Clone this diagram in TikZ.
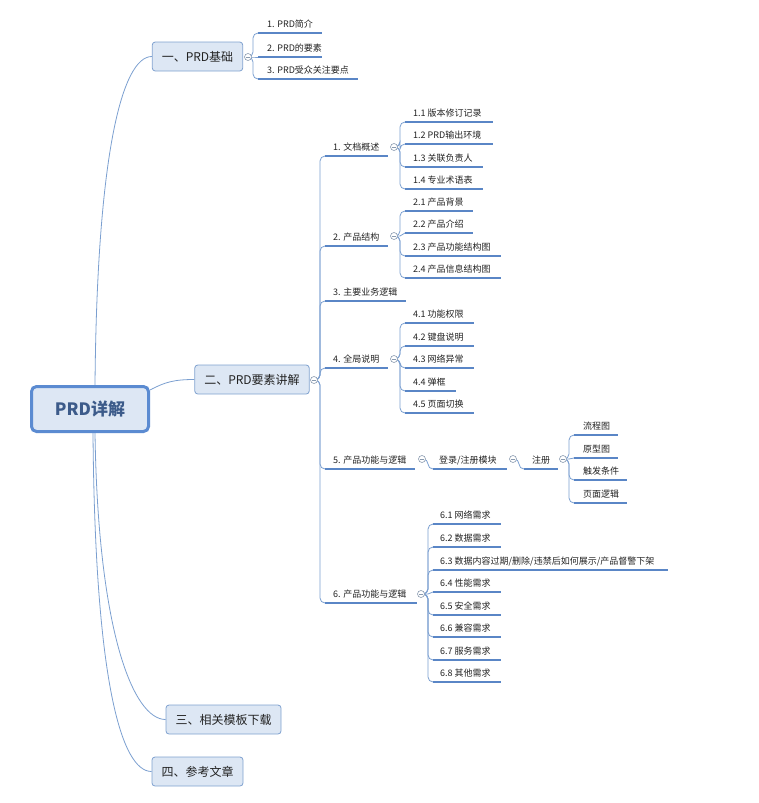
\documentclass[tikz,border=0pt]{standalone}
\usepackage{fontspec}
\setmainfont{Noto Sans CJK SC}
\usetikzlibrary{backgrounds}
\definecolor{boxfill}{HTML}{DDE7F4}
\definecolor{boxline}{HTML}{7FA1CF}
\definecolor{rootline}{HTML}{5B8BD1}
\definecolor{roottext}{HTML}{3C5B8A}
\definecolor{connc}{HTML}{7B9FD0}
\definecolor{barc}{HTML}{5A86C6}
\definecolor{collc}{HTML}{8A9BB0}
\definecolor{txt}{HTML}{222222}
\newcommand\leafnode[6]{%
  \coordinate (#1-l) at (#2,#4);
  \coordinate (#1-r) at (#3,#4);
  \node[leaftext] (#1) at (#2+#5,#4-5.5) {#6};
  \draw[bar] (#1-l) -- (#1-r);}
\newcommand\linkto[3]{\draw[conn,rounded corners=5pt] (#1.center) -- ++(#2,0) |- (#3-l);}
\newcommand\linkst[3]{\draw[conn] (#1.center) -- ++(#2,0) -- (#3-l);}
\begin{document}
\begin{tikzpicture}[x=1pt,y=-1pt,
  leaftext/.style={anchor=base west, inner sep=0pt, font=\fontsize{9}{10}\selectfont, text=txt},
  bar/.style={draw=barc, line width=1.6pt},
  conn/.style={draw=connc, line width=0.8pt},
  coll/.style={circle, draw=collc, fill=white, line width=0.6pt, minimum size=7pt, inner sep=0pt,
    path picture={\draw[collc,line width=0.6pt] ([xshift=-2pt]path picture bounding box.center) -- ([xshift=2pt]path picture bounding box.center);}},
  lone/.style={draw=boxline, fill=boxfill, rounded corners=3pt, line width=0.8pt, minimum height=29pt, inner xsep=9.5pt, inner ysep=0pt, font=\fontsize{12}{14}\selectfont, text=txt},
  rootbox/.style={draw=rootline, fill=boxfill, rounded corners=5pt, line width=3pt, minimum width=117pt, minimum height=45pt, font=\fontsize{17}{20}\selectfont\bfseries, text=roottext}
]
\useasboundingbox (0,0) rectangle (758,803);
\node[rootbox] (root) at (90,409) {PRD详解};
\node[lone] (b1) at (197.5,56.5) {一、PRD基础};
\node[lone] (b2) at (252,379.5) {二、PRD要素讲解};
\node[lone] (b3) at (223.5,719.5) {三、相关模板下载};
\node[lone] (b4) at (197.5,771.5) {四、参考文章};

% group A
\leafnode{a1}{258}{322}{33}{9}{1. PRD简介}
\leafnode{a2}{258}{322}{57}{9}{2. PRD的要素}
\leafnode{a3}{258}{358}{79}{9}{3. PRD受众关注要点}
% group B
\leafnode{m1}{325}{388}{156}{8}{1. 文档概述}
\leafnode{m2}{325}{388}{246}{8}{2. 产品结构}
\leafnode{m3}{325}{406}{301}{8}{3. 主要业务逻辑}
\leafnode{m4}{325}{388}{368}{8}{4. 全局说明}
\leafnode{m5}{325}{415}{469}{8}{5. 产品功能与逻辑}
\leafnode{m6}{325}{417}{603}{8}{6. 产品功能与逻辑}
% group 1
\leafnode{d11}{405}{493}{122}{8}{1.1 版本修订记录}
\leafnode{d12}{405}{493}{144}{8}{1.2 PRD输出环境}
\leafnode{d13}{405}{483}{167}{8}{1.3 关联负责人}
\leafnode{d14}{405}{483}{189}{8}{1.4 专业术语表}
% group 2
\leafnode{d21}{405}{473}{211}{8}{2.1 产品背景}
\leafnode{d22}{405}{473}{233}{8}{2.2 产品介绍}
\leafnode{d23}{405}{501}{256}{8}{2.3 产品功能结构图}
\leafnode{d24}{405}{501}{278}{8}{2.4 产品信息结构图}
% group 4
\leafnode{d41}{405}{474}{323}{8}{4.1 功能权限}
\leafnode{d42}{405}{474}{346}{8}{4.2 键盘说明}
\leafnode{d43}{405}{474}{368}{8}{4.3 网络异常}
\leafnode{d44}{405}{456}{391}{8}{4.4 弹框}
\leafnode{d45}{405}{474}{413}{8}{4.5 页面切换}
% group 5
\leafnode{e1}{433}{507}{469}{6}{登录/注册模块}
\leafnode{e2}{524}{558}{469}{8}{注册}
\leafnode{f1}{574}{618}{435}{9}{流程图}
\leafnode{f2}{574}{618}{458}{9}{原型图}
\leafnode{f3}{574}{627}{480}{9}{触发条件}
\leafnode{f4}{574}{627}{503}{9}{页面逻辑}
% group 6
\leafnode{g1}{433}{501}{524}{7}{6.1 网络需求}
\leafnode{g2}{433}{501}{547}{7}{6.2 数据需求}
\leafnode{g3}{433}{668}{570}{7}{6.3 数据内容过期/删除/违禁后如何展示/产品督警下架}
\leafnode{g4}{433}{501}{592}{7}{6.4 性能需求}
\leafnode{g5}{433}{501}{615}{7}{6.5 安全需求}
\leafnode{g6}{433}{501}{637}{7}{6.6 兼容需求}
\leafnode{g7}{433}{501}{660}{7}{6.7 服务需求}
\leafnode{g8}{433}{501}{682}{7}{6.8 其他需求}

% collapse circles
\node[coll] (cA) at (248,57) {};
\node[coll] (cB) at (314,380) {};
\node[coll] (c1) at (394,147) {};
\node[coll] (c2) at (394,236) {};
\node[coll] (c4) at (394,359) {};
\node[coll] (c5) at (422,459) {};
\node[coll] (ce1) at (513,459) {};
\node[coll] (ce2) at (563,459) {};
\node[coll] (c6) at (421,594) {};

\begin{scope}[on background layer]
\draw[conn] ([xshift=5pt]root.north) .. controls +(2,-230) and +(-30,0) .. (b1.west);
\draw[conn] ([yshift=19pt]root.east) .. controls +(15,-8) and +(-20,0) .. (b2.west);
\draw[conn] ([xshift=5pt]root.south) .. controls +(3,200) and +(-32,0) .. (b3.west);
\draw[conn] ([xshift=3pt]root.south) .. controls +(2,250) and +(-30,0) .. (b4.west);
\linkto{cA}{5}{a1}
\linkst{cA}{5}{a2}
\linkto{cA}{5}{a3}
\linkto{cB}{6}{m1}
\linkto{cB}{6}{m2}
\linkto{cB}{6}{m3}
\linkto{cB}{6}{m4}
\linkto{cB}{6}{m5}
\linkto{cB}{6}{m6}
\linkto{c1}{6}{d11}
\linkto{c1}{6}{d12}
\linkto{c1}{6}{d13}
\linkto{c1}{6}{d14}
\linkto{c2}{6}{d21}
\linkst{c2}{6}{d22}
\linkto{c2}{6}{d23}
\linkto{c2}{6}{d24}
\linkto{c4}{6}{d41}
\linkto{c4}{6}{d42}
\linkto{c4}{6}{d43}
\linkto{c4}{6}{d44}
\linkto{c4}{6}{d45}
\linkto{c5}{6}{e1}
\linkto{ce1}{6}{e2}
\linkto{ce2}{6}{f1}
\linkst{ce2}{6}{f2}
\linkto{ce2}{6}{f3}
\linkto{ce2}{6}{f4}
\linkto{c6}{7}{g1}
\linkto{c6}{7}{g2}
\linkto{c6}{7}{g3}
\linkst{c6}{7}{g4}
\linkto{c6}{7}{g5}
\linkto{c6}{7}{g6}
\linkto{c6}{7}{g7}
\linkto{c6}{7}{g8}
\end{scope}
\end{tikzpicture}
\end{document}
